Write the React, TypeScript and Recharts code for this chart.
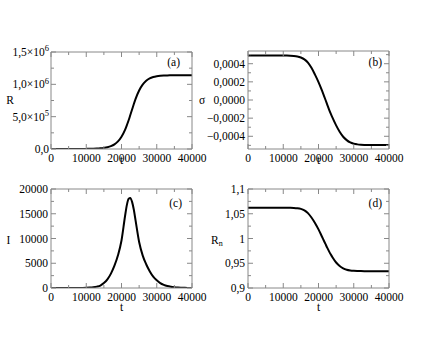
import { LineChart, Line, XAxis, YAxis } from "recharts";

// time grid (t)
const tValues = [
  0, 1000, 2000, 3000, 4000, 5000, 6000, 7000, 8000, 9000, 10000, 11000, 12000,
  13000, 14000, 15000, 16000, 17000, 18000, 19000, 20000, 21000, 21500, 22000,
  22500, 23000, 23500, 24000, 25000, 26000, 27000, 28000, 29000, 30000, 31000,
  32000, 33000, 34000, 35000, 36000, 37000, 38000, 39000, 40000,
];

// (a) R
const rValues = [
  0, 0, 0, 0, 0, 0, 0, 0, 500, 1000, 1800, 2800, 4500, 7000, 11000, 17000,
  27000, 44000, 72000, 118000, 190000, 295000, 365000, 440000, 525000, 610000,
  695000, 775000, 905000, 995000, 1055000, 1092000, 1113000, 1125000, 1132000,
  1136000, 1138000, 1139000, 1140000, 1140000, 1140000, 1140000, 1140000,
  1140000,
];

// (b) sigma
const sigmaValues = [
  0.00049, 0.00049, 0.00049, 0.00049, 0.00049, 0.00049, 0.00049, 0.00049,
  0.00049, 0.00049, 0.00049, 0.00049, 0.000489, 0.000486, 0.00048, 0.000468,
  0.000448, 0.000412, 0.000355, 0.00028, 0.000198, 0.000103, 0.000052, 0.0,
  -0.000053, -0.000105, -0.000153, -0.000198, -0.00028, -0.00035, -0.000405,
  -0.000442, -0.000468, -0.000482, -0.000489, -0.000493, -0.000495, -0.000496,
  -0.000496, -0.000496, -0.000496, -0.000496, -0.000496, -0.000496,
];

// (c) I
const iValues = [
  0, 0, 0, 0, 0, 0, 0, 0, 10, 20, 40, 80, 150, 280, 500, 1000, 1750, 2900,
  4500, 6600, 9600, 14500, 16700, 18000, 18200, 17400, 15800, 13600, 9300,
  6600, 4800, 3400, 2300, 1550, 1000, 640, 400, 250, 150, 90, 55, 30, 20, 10,
];

// (d) R_n
const rnValues = [
  1.062, 1.062, 1.062, 1.062, 1.062, 1.062, 1.062, 1.062, 1.062, 1.062, 1.062,
  1.062, 1.062, 1.0618, 1.0612, 1.0598, 1.0568, 1.0512, 1.0425, 1.0315, 1.0185,
  1.0035, 0.996, 0.9885, 0.981, 0.974, 0.9675, 0.9615, 0.9515, 0.9445, 0.9398,
  0.937, 0.9355, 0.9347, 0.9343, 0.9341, 0.934, 0.934, 0.934, 0.934, 0.934,
  0.934, 0.934, 0.934,
];

const tMajor = [0, 10000, 20000, 30000, 40000];
const tMinor = [5000, 15000, 25000, 35000];
const rMajor = [0, 500000, 1000000, 1500000];
const rMinor = [250000, 750000, 1250000];
const sigmaMajor = [-0.0004, -0.0002, 0, 0.0002, 0.0004];
const sigmaMinor = [-0.0005, -0.0003, -0.0001, 0.0001, 0.0003, 0.0005];
const iMajor = [0, 5000, 10000, 15000, 20000];
const iMinor = [2500, 7500, 12500, 17500];
const rnMajor = [0.9, 0.95, 1, 1.05, 1.1];
const rnMinor = [0.925, 0.975, 1.025, 1.075];

const rows = tValues.map((t, i) => ({
  t,
  R: rValues[i],
  sigma: sigmaValues[i],
  I: iValues[i],
  rn: rnValues[i],
}));

const FONT = "Liberation Serif";
const FRAME = "#888";
const FS = 11.5;
const textProps = { fontFamily: FONT, fontSize: FS, fill: "#000" };

const fmtSigma = (v: number) =>
  (v < -1e-12 ? "−" : "") + Math.abs(v).toFixed(4).replace(".", ",");
const fmtRn = (v: number) => String(+v.toFixed(2)).replace(".", ",");
const fmtPlain = (v: number) => String(v);

function sciLabel(v: number) {
  if (v === 0) return <tspan>0,0</tspan>;
  const e = Math.floor(Math.log10(v) + 1e-9);
  const m = (v / Math.pow(10, e)).toFixed(1).replace(".", ",");
  return (
    <>
      <tspan>{m}×10</tspan>
      <tspan dy="-0.55em" fontSize={8.5}>
        {e}
      </tspan>
    </>
  );
}

type Side = "bottom" | "top" | "left" | "right";

// draws inward major/minor tick marks and (optionally) the label
function makeTick(side: Side, major: number[], label?: (v: number) => any, gap = 3) {
  return (props: any) => {
    const { x, y, payload } = props;
    const v: number = payload.value;
    const isMajor = major.some((m) => Math.abs(m - v) < 1e-12);
    const len = isMajor ? 5 : 3;
    let mark;
    if (side === "bottom") mark = <line x1={x} y1={y} x2={x} y2={y - len} />;
    else if (side === "top") mark = <line x1={x} y1={y} x2={x} y2={y + len} />;
    else if (side === "left") mark = <line x1={x} y1={y} x2={x + len} y2={y} />;
    else mark = <line x1={x} y1={y} x2={x - len} y2={y} />;
    let text = null;
    if (label && isMajor) {
      const l = label(v);
      if (side === "bottom") {
        text = (
          <text x={x} y={y + 4} dy="0.76em" textAnchor="middle" {...textProps} style={{ fontFamily: FONT }}>
            {l}
          </text>
        );
      } else if (side === "left") {
        text = (
          <text x={x - gap} y={y} dy="0.35em" textAnchor="end" {...textProps} style={{ fontFamily: FONT }}>
            {l}
          </text>
        );
      }
    }
    return (
      <g>
        <g stroke={FRAME} strokeWidth={1}>{mark}</g>
        {text}
      </g>
    );
  };
}

type PanelProps = {
  left: number;
  top: number;
  margin: { top: number; right: number; bottom: number; left: number };
  yWidth: number;
  yKey: string;
  yDomain: [number, number];
  yMajor: number[];
  yMinor: number[];
  yLabel: (v: number) => any;
  yGap?: number;
};

function Panel(p: PanelProps) {
  const tAll = [...tMajor, ...tMinor];
  const yAll = [...p.yMajor, ...p.yMinor];
  const common = {
    interval: 0 as const,
    tickSize: 0,
    tickMargin: 0,
    tickLine: false,
    axisLine: { stroke: FRAME },
    allowDataOverflow: true,
  };
  return (
    <div style={{ position: "absolute", left: p.left, top: p.top }}>
      <LineChart width={220} height={170} data={rows} margin={p.margin}>
        <XAxis
          {...common}
          xAxisId="x"
          dataKey="t"
          type="number"
          domain={[0, 40000]}
          ticks={tAll}
          height={20}
          tick={makeTick("bottom", tMajor, fmtPlain)}
        />
        <XAxis
          {...common}
          xAxisId="xt"
          orientation="top"
          dataKey="t"
          type="number"
          domain={[0, 40000]}
          ticks={tAll}
          height={1}
          tick={makeTick("top", tMajor)}
        />
        <YAxis
          {...common}
          yAxisId="y"
          type="number"
          domain={p.yDomain}
          ticks={yAll}
          width={p.yWidth}
          tick={makeTick("left", p.yMajor, p.yLabel, p.yGap ?? 3)}
        />
        <YAxis
          {...common}
          yAxisId="yr"
          orientation="right"
          type="number"
          domain={p.yDomain}
          ticks={yAll}
          width={1}
          tick={makeTick("right", p.yMajor)}
        />
        <Line
          xAxisId="x"
          yAxisId="y"
          type="monotone"
          dataKey={p.yKey}
          stroke="#000"
          strokeWidth={2}
          dot={false}
          isAnimationActive={false}
        />
        <Line
          xAxisId="xt"
          yAxisId="yr"
          type="monotone"
          dataKey={p.yKey}
          stroke="none"
          dot={false}
          isAnimationActive={false}
        />
      </LineChart>
    </div>
  );
}

export default function App() {
  const txt = { ...textProps, style: { fontFamily: FONT } };
  return (
    <div
      style={{
        position: "absolute",
        left: 0,
        top: 0,
        width: 440,
        height: 340,
        background: "#fff",
        overflow: "hidden",
        fontFamily: FONT,
      }}
    >
      <Panel
        left={0}
        top={0}
        margin={{ top: 51, right: 27, bottom: 1, left: 0 }}
        yWidth={51}
        yKey="R"
        yDomain={[0, 1500000]}
        yMajor={rMajor}
        yMinor={rMinor}
        yLabel={sciLabel}
        yGap={2}
      />
      <Panel
        left={200}
        top={0}
        margin={{ top: 50, right: 30, bottom: 1, left: 0 }}
        yWidth={48}
        yKey="sigma"
        yDomain={[-0.00054, 0.00054]}
        yMajor={sigmaMajor}
        yMinor={sigmaMinor}
        yLabel={fmtSigma}
      />
      <Panel
        left={0}
        top={170}
        margin={{ top: 18, right: 27, bottom: 32, left: 0 }}
        yWidth={51}
        yKey="I"
        yDomain={[0, 20000]}
        yMajor={iMajor}
        yMinor={iMinor}
        yLabel={fmtPlain}
      />
      <Panel
        left={200}
        top={170}
        margin={{ top: 18, right: 30, bottom: 32, left: 0 }}
        yWidth={48}
        yKey="rn"
        yDomain={[0.9, 1.1]}
        yMajor={rnMajor}
        yMinor={rnMinor}
        yLabel={fmtRn}
      />
      <svg
        width={440}
        height={340}
        style={{ position: "absolute", left: 0, top: 0, pointerEvents: "none" }}
      >
        <text x={10} y={100} dy="0.35em" textAnchor="middle" {...txt}>R</text>
        <text x={202} y={100} dy="0.35em" textAnchor="middle" {...txt}>σ</text>
        <text x={8.5} y={240} dy="0.35em" textAnchor="middle" {...txt}>I</text>
        <text x={211} y={240} dy="0.35em" {...txt}>
          R<tspan dy="0.3em" fontSize={8}>n</tspan>
        </text>
        <text x={121.5} y={160} dy="0.35em" textAnchor="middle" {...txt}>t</text>
        <text x={318.5} y={160} dy="0.35em" textAnchor="middle" {...txt}>t</text>
        <text x={121.5} y={307} dy="0.35em" textAnchor="middle" {...txt}>t</text>
        <text x={318.5} y={307} dy="0.35em" textAnchor="middle" {...txt}>t</text>
        <text x={180} y={62} dy="0.35em" textAnchor="end" {...txt}>(a)</text>
        <text x={382} y={61.5} dy="0.35em" textAnchor="end" {...txt}>(b)</text>
        <text x={182} y={203} dy="0.35em" textAnchor="end" {...txt}>(c)</text>
        <text x={382} y={202.5} dy="0.35em" textAnchor="end" {...txt}>(d)</text>
      </svg>
    </div>
  );
}
